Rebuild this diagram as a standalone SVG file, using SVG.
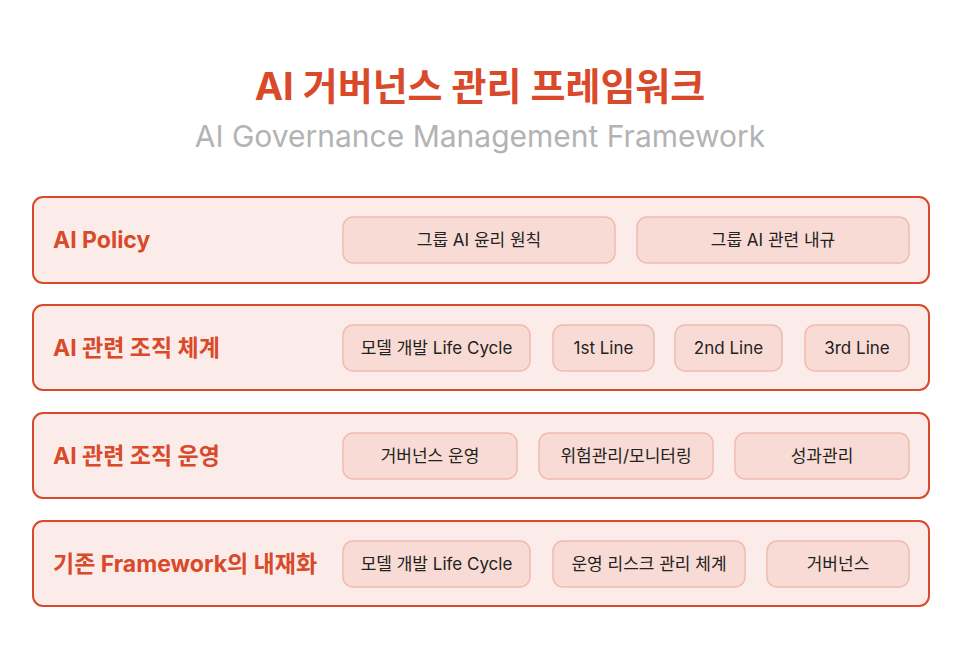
<svg xmlns="http://www.w3.org/2000/svg" width="960" height="654" viewBox="0 0 960 654">
<style>
.title{font-family:Inter,"Noto Sans CJK KR",sans-serif;font-weight:700;font-size:38px;fill:#d94a2b;text-anchor:middle}
.sub{font-family:Inter,"Noto Sans CJK KR",sans-serif;font-weight:400;font-size:30px;fill:#b3b3b3;text-anchor:middle}
.row{fill:#fbece9;stroke:#d94a2b;stroke-width:2}
.lbl{font-family:Inter,"Noto Sans CJK KR",sans-serif;font-weight:700;font-size:23px;fill:#d94a2b}
.pill{fill:#f8dbd4;stroke:#f0bcae;stroke-width:1.5}
.pt{font-family:Inter,"Noto Sans CJK KR",sans-serif;font-weight:400;font-size:17px;fill:#222;text-anchor:middle}
</style>
<rect width="960" height="654" fill="#ffffff"/>
<text class="title" x="480" y="100">AI 거버넌스 관리 프레임워크</text>
<text class="sub" x="480" y="147">AI Governance Management Framework</text>

<g id="row1">
<rect class="row" x="33" y="197" width="896" height="86" rx="10"/>
<text class="lbl" x="53" y="248">AI Policy</text>
<g id="r1p1"><rect class="pill" x="343" y="217" width="272" height="46" rx="10"/><text class="pt" x="479" y="246">그룹 AI 윤리 원칙</text></g>
<g id="r1p2"><rect class="pill" x="637" y="217" width="272" height="46" rx="10"/><text class="pt" x="773" y="246">그룹 AI 관련 내규</text></g>
</g>

<g id="row2">
<rect class="row" x="33" y="305" width="896" height="85" rx="10"/>
<text class="lbl" x="53" y="356">AI 관련 조직 체계</text>
<g id="r2p1"><rect class="pill" x="343" y="325" width="187" height="46" rx="10"/><text class="pt" x="436.5" y="354">모델 개발 Life Cycle</text></g>
<g id="r2p2"><rect class="pill" x="553" y="325" width="101" height="46" rx="10"/><text class="pt" x="603.5" y="354">1st Line</text></g>
<g id="r2p3"><rect class="pill" x="675" y="325" width="107" height="46" rx="10"/><text class="pt" x="728.5" y="354">2nd Line</text></g>
<g id="r2p4"><rect class="pill" x="805" y="325" width="104" height="46" rx="10"/><text class="pt" x="857" y="354">3rd Line</text></g>
</g>

<g id="row3">
<rect class="row" x="33" y="413" width="896" height="85" rx="10"/>
<text class="lbl" x="53" y="464">AI 관련 조직 운영</text>
<g id="r3p1"><rect class="pill" x="343" y="433" width="174" height="46" rx="10"/><text class="pt" x="430" y="462">거버넌스 운영</text></g>
<g id="r3p2"><rect class="pill" x="539" y="433" width="174" height="46" rx="10"/><text class="pt" x="626" y="462">위험관리/모니터링</text></g>
<g id="r3p3"><rect class="pill" x="735" y="433" width="174" height="46" rx="10"/><text class="pt" x="822" y="462">성과관리</text></g>
</g>

<g id="row4">
<rect class="row" x="33" y="521" width="896" height="85" rx="10"/>
<text class="lbl" x="53" y="572">기존 Framework의 내재화</text>
<g id="r4p1"><rect class="pill" x="343" y="541" width="187" height="46" rx="10"/><text class="pt" x="436.5" y="570">모델 개발 Life Cycle</text></g>
<g id="r4p2"><rect class="pill" x="553" y="541" width="192" height="46" rx="10"/><text class="pt" x="649" y="570">운영 리스크 관리 체계</text></g>
<g id="r4p3"><rect class="pill" x="767" y="541" width="142" height="46" rx="10"/><text class="pt" x="838" y="570">거버넌스</text></g>
</g>

<g id="connectors"></g>
</svg>
